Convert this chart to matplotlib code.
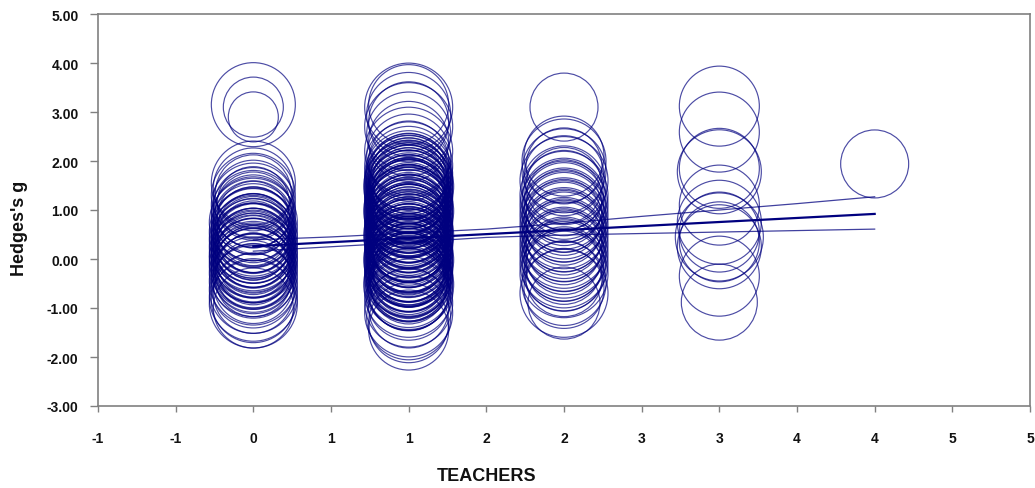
import numpy as np
import matplotlib
matplotlib.use("Agg")
import matplotlib.pyplot as plt

plt.rcParams['font.family'] = ['Liberation Sans', 'DejaVu Sans']

# effect sizes (Hedges's g) and relative weights for each TEACHERS value
g_t0 = [3.15, 3.10, 2.90,
        1.55, 1.45, 1.35, 1.30, 1.20, 1.15, 1.10, 1.05, 1.00, 0.95, 0.90, 0.85,
        0.82, 0.78, 0.75, 0.70, 0.68, 0.65, 0.60, 0.58, 0.55, 0.52, 0.50, 0.47,
        0.45, 0.42, 0.40, 0.37, 0.35, 0.32, 0.30, 0.28, 0.25, 0.22, 0.20, 0.18,
        0.15, 0.12, 0.10, 0.08, 0.05, 0.02, 0.00, -0.03, -0.05, -0.08, -0.10,
        -0.13, -0.15, -0.18, -0.20, -0.23, -0.25, -0.28, -0.30, -0.35, -0.40,
        -0.45, -0.50, -0.55, -0.62, -0.70, -0.78, -0.85, -0.92, -1.00]
w_t0 = [42, 30, 25,
        42, 40, 38, 42, 40, 36, 42, 40, 38, 42, 40, 36,
        42, 40, 44, 38, 42, 40, 36, 42, 44, 40, 38, 42,
        36, 40, 44, 42, 38, 40, 36, 42, 44, 40, 38, 42,
        36, 40, 44, 42, 38, 40, 44, 42, 36, 40, 38,
        44, 42, 40, 36, 42, 38, 44, 40, 42, 38,
        44, 40, 42, 44, 40, 44, 42, 44, 40]

g_t1 = [3.15, 3.10, 2.95, 2.80, 2.70, 2.55, 2.40, 2.20, 2.10, 2.00, 1.90, 1.85,
        1.75, 1.72, 1.70, 1.67, 1.65, 1.62, 1.60, 1.57, 1.55, 1.52, 1.50, 1.47,
        1.45, 1.42, 1.40, 1.37, 1.35, 1.32, 1.30, 1.27, 1.25, 1.22, 1.20, 1.17,
        1.15, 1.12, 1.10, 1.07, 1.05, 1.02, 1.00, 0.97, 0.95, 0.92, 0.90, 0.87,
        0.85, 0.82, 0.80, 0.77, 0.75, 0.72, 0.70, 0.67, 0.65, 0.62, 0.60, 0.57,
        0.55, 0.52, 0.50, 0.47, 0.45, 0.42, 0.40, 0.37, 0.35, 0.32, 0.30, 0.27,
        0.25, 0.22, 0.20, 0.17, 0.15, 0.12, 0.10, 0.07, 0.05, 0.02, 0.00, -0.03,
        -0.05, -0.08, -0.10, -0.13, -0.15, -0.18, -0.20, -0.23, -0.25, -0.28,
        -0.30, -0.33, -0.35, -0.38, -0.40, -0.43, -0.45, -0.50, -0.55, -0.60,
        -0.65, -0.70, -0.80, -0.90, -1.00, -1.10, -1.20, -1.30, -1.45,
        1.68, 1.58, 1.48, 1.38, 1.28, 1.18, 1.08, 0.98, 0.88, 0.78, 0.68, 0.58,
        0.48, 0.38, 0.28, 0.18, 0.08, -0.02, -0.12, -0.22, -0.32, -0.42, -0.52,
        -0.62, 1.33, 1.13, 0.93, 0.73, 0.53, 0.33, 0.13, -0.07, -0.27, -0.47]
w_t1 = [40, 44, 42, 40, 44, 42, 40, 44, 42, 40, 44, 42,
        40, 44, 38, 42, 40, 44, 36, 42, 40, 44, 38, 42,
        40, 44, 36, 42, 40, 44, 38, 42, 40, 44, 36, 42,
        40, 44, 38, 42, 40, 44, 36, 42, 40, 44, 38, 42,
        40, 44, 36, 42, 40, 44, 38, 42, 40, 44, 36, 42,
        40, 44, 38, 42, 40, 44, 36, 42, 40, 44, 38, 42,
        40, 44, 36, 42, 40, 44, 38, 42, 40, 44, 36, 42,
        40, 44, 38, 42, 40, 44, 36, 42, 40, 44,
        38, 42, 40, 44, 36, 42, 40, 44, 38, 42,
        40, 44, 42, 44, 40, 44, 42, 40, 40,
        43, 39, 45, 41, 37, 43, 39, 45, 41, 37, 43, 39,
        45, 41, 37, 43, 39, 45, 41, 37, 43, 39, 45,
        41, 35, 39, 35, 39, 35, 39, 35, 39, 35, 39]

g_t2 = [3.10, 2.10, 2.00, 1.90, 1.80, 1.70, 1.60, 1.50, 1.45, 1.40, 1.30, 1.25,
        1.20, 1.15, 1.10, 1.05, 1.00, 0.95, 0.90, 0.85, 0.80, 0.75, 0.70, 0.65,
        0.60, 0.55, 0.50, 0.45, 0.40, 0.35, 0.30, 0.25, 0.20, 0.15, 0.10, 0.05,
        0.00, -0.05, -0.10, -0.15, -0.20, -0.25, -0.30, -0.40, -0.50, -0.60,
        -0.70, -0.90]
w_t2 = [34, 40, 42, 38, 42, 40, 44, 38, 42, 40, 44, 38,
        42, 40, 44, 38, 42, 40, 44, 38, 42, 40, 44, 38,
        42, 40, 44, 38, 42, 40, 44, 38, 42, 40, 44, 38,
        42, 40, 44, 38, 42, 40, 44, 38, 42, 40,
        44, 36]

g_t3 = [3.12, 2.59, 1.85, 1.78, 1.10, 0.75, 0.55, 0.45, 0.35, 0.25, -0.35, -0.88]
w_t3 = [40, 40, 40, 42, 40, 42, 40, 44, 40, 42, 40, 38]

g_t4 = [1.94]
w_t4 = [34]

# meta-regression line and confidence limits
reg_x = [0.0, 0.5, 1.0, 1.5, 2.0, 2.5, 3.0, 3.5, 4.0]
reg_upper = [0.39, 0.45, 0.53, 0.61, 0.73, 0.87, 1.00, 1.13, 1.27]
reg_lower = [0.16, 0.25, 0.34, 0.44, 0.49, 0.52, 0.55, 0.58, 0.61]
reg_line_x = [0.0, 4.0]
reg_line_y = [0.26, 0.92]

x_ticks = [-1, -0.5, 0, 0.5, 1, 1.5, 2, 2.5, 3, 3.5, 4, 4.5, 5]
x_tick_labels = ['-1', '-1', '0', '1', '1', '2', '2', '3', '3', '4', '4', '5', '5']
y_ticks = [-3, -2, -1, 0, 1, 2, 3, 4, 5]

navy = '#00007f'
dpi = 100
fig = plt.figure(figsize=(10.35, 4.89), dpi=dpi)
ax = fig.add_axes([98 / 1035, 82 / 489, 932 / 1035, 392 / 489])

groups = [(0, g_t0, w_t0), (1, g_t1, w_t1), (2, g_t2, w_t2),
          (3, g_t3, w_t3), (4, g_t4, w_t4)]
for xv, gs, ws in groups:
    ws = np.array(ws, dtype=float)
    sizes = (2 * ws * 72 / dpi) ** 2  # weight read as radius in px
    ax.scatter(np.full(len(gs), xv), gs, s=sizes, facecolors='none',
               edgecolors=navy, linewidths=0.85, alpha=0.7, zorder=2)

ax.plot(reg_x, reg_upper, color=navy, lw=0.9, alpha=0.75, zorder=3)
ax.plot(reg_x, reg_lower, color=navy, lw=0.9, alpha=0.75, zorder=3)
ax.plot(reg_line_x, reg_line_y, color=navy, lw=1.6, zorder=3)

ax.set_xlim(-1, 5)
ax.set_ylim(-3, 5)
ax.set_xticks(x_ticks)
ax.set_xticklabels(x_tick_labels)
ax.set_yticks(y_ticks)
ax.set_yticklabels(['%.2f' % v for v in y_ticks])

for lab in ax.get_xticklabels() + ax.get_yticklabels():
    lab.set_fontweight('bold')
    lab.set_fontsize(10)
    lab.set_color('#111111')

ax.tick_params(axis='x', direction='out', length=4, width=1, color='#808080', pad=14)
ax.tick_params(axis='y', direction='out', length=6, width=1, color='#808080', pad=8)
for sp in ax.spines.values():
    sp.set_color('#808080')
    sp.set_linewidth(1.2)

fig.text(487 / 1035, 1 - 477 / 489, 'TEACHERS', ha='center', va='center',
         fontsize=13, fontweight='bold', color='#111111')
fig.text(20 / 1035, 1 - 228 / 489, "Hedges's g", ha='center', va='center',
         rotation=90, fontsize=13, fontweight='bold', color='#111111')

fig.savefig('out.png', dpi=dpi)
